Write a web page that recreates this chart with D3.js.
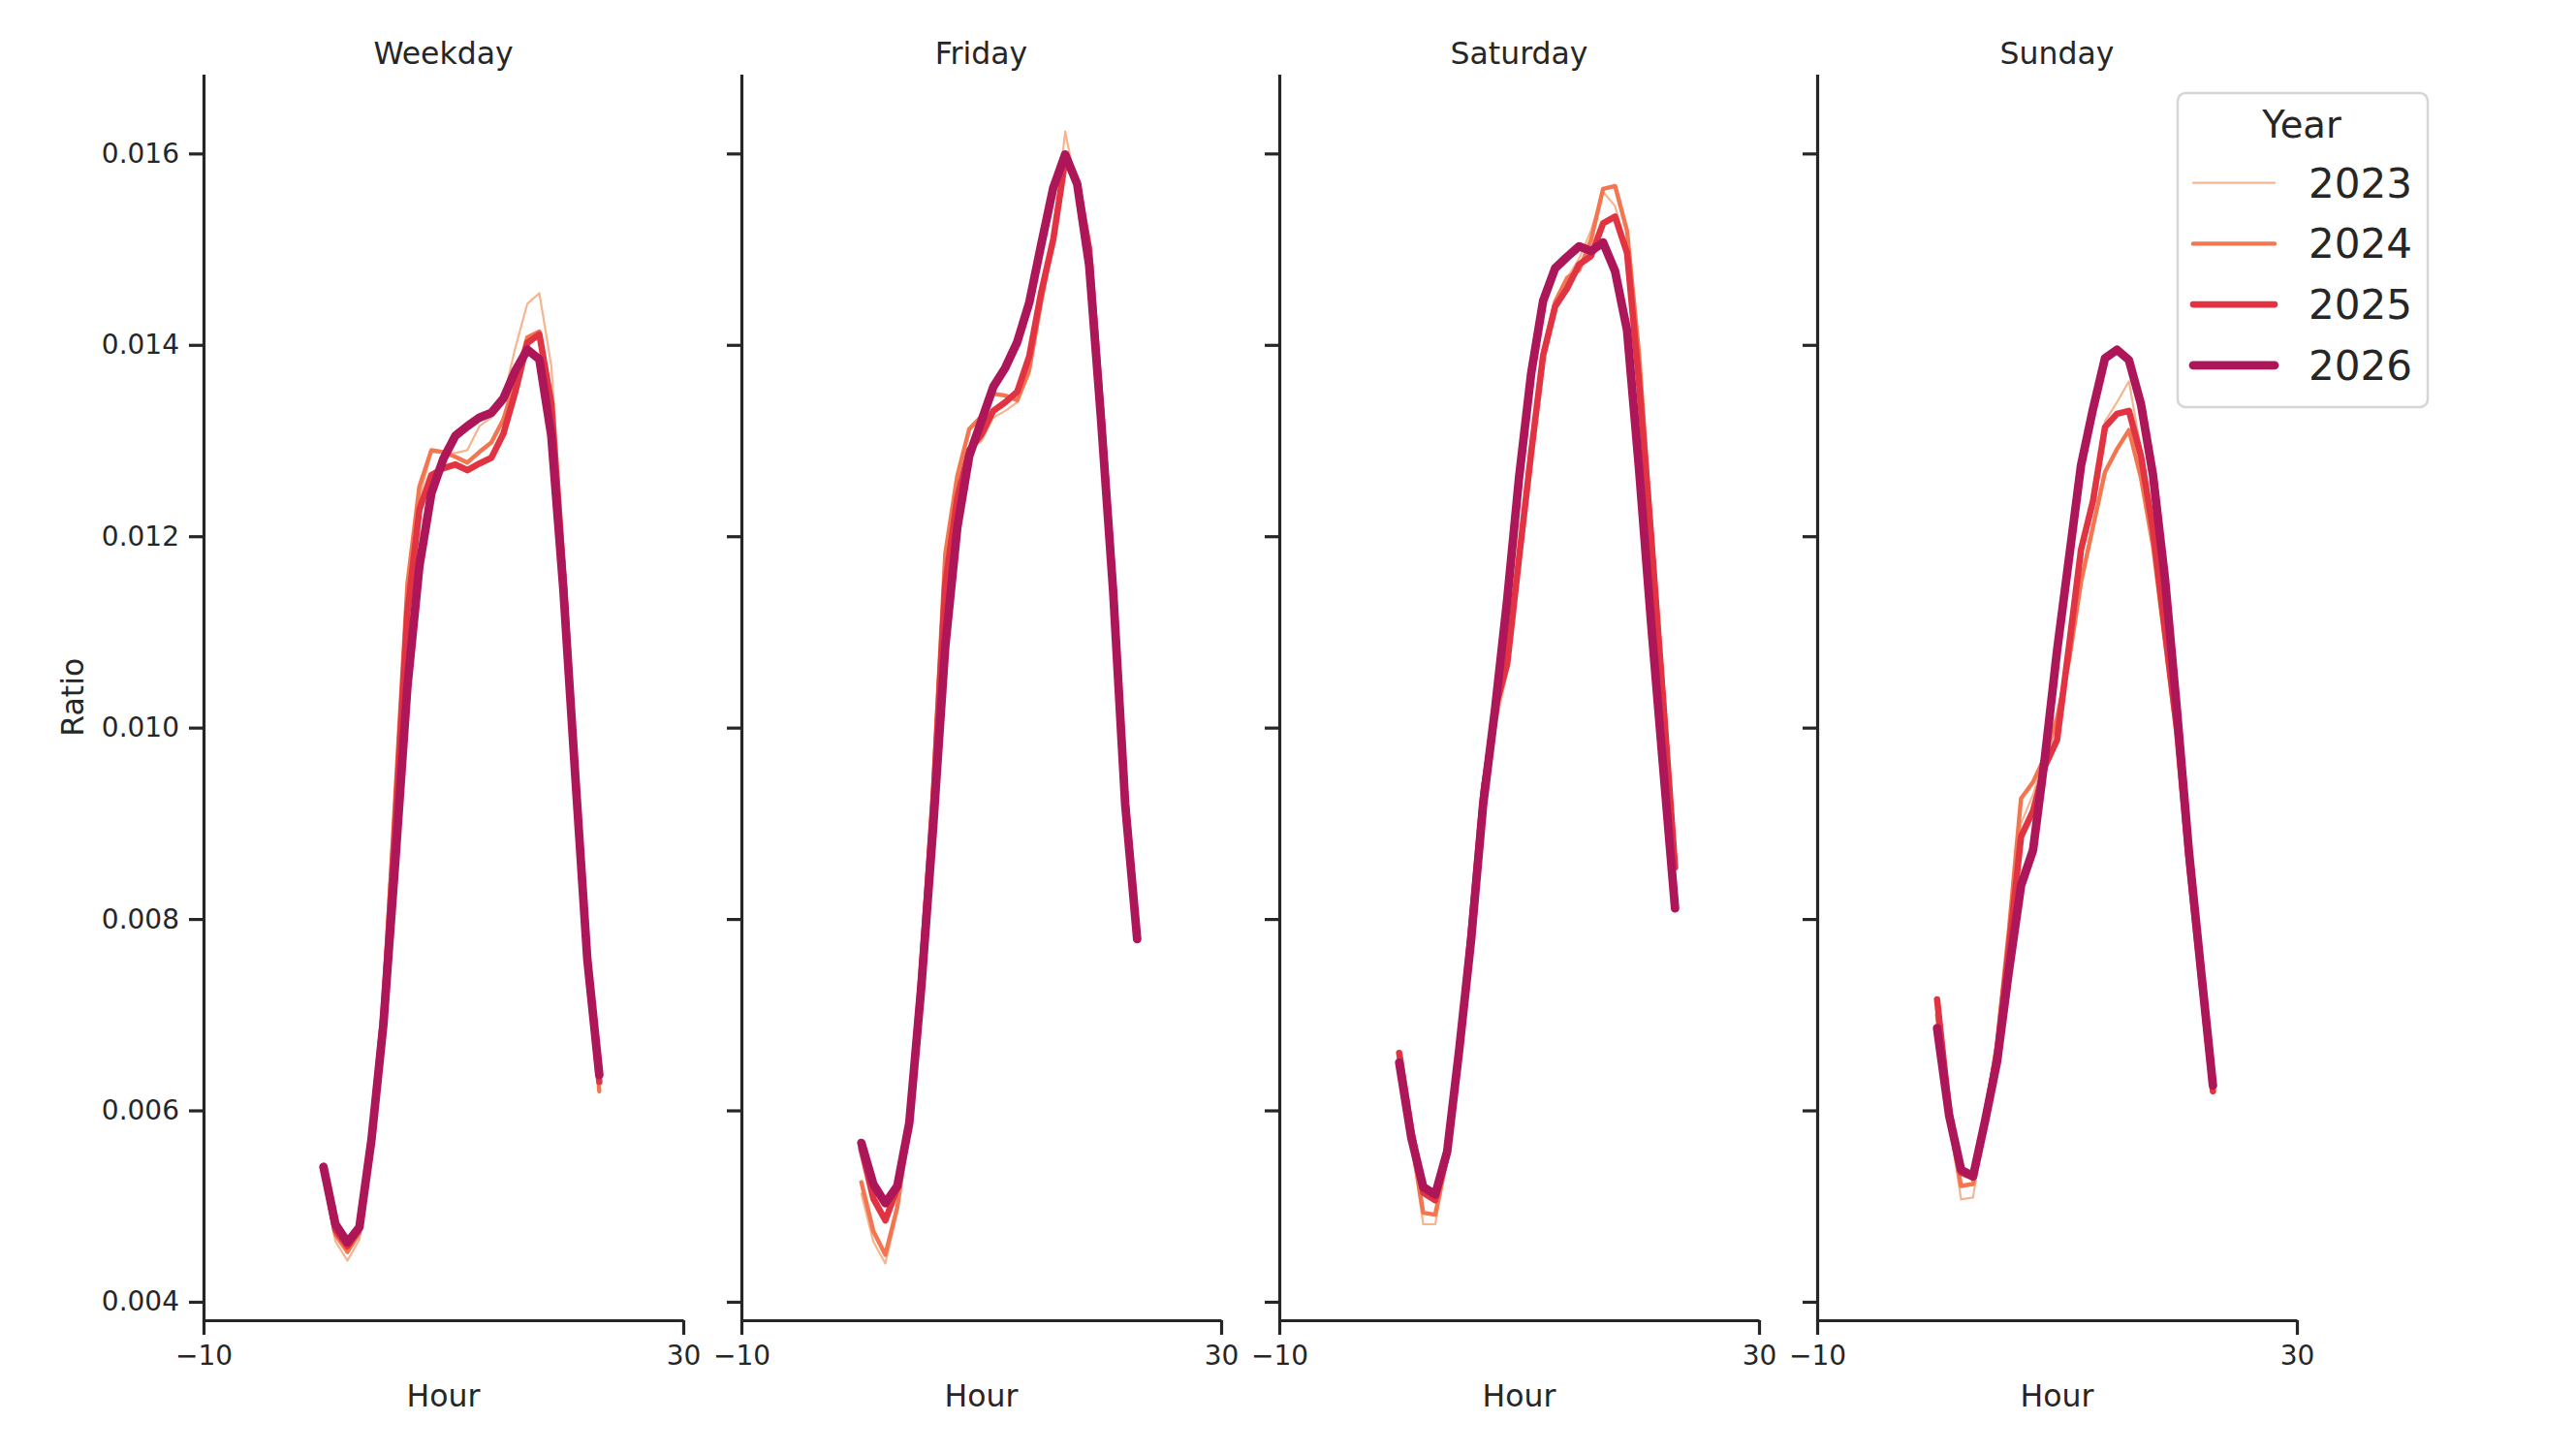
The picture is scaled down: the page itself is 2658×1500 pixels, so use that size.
<!DOCTYPE html>
<html>
<head>
<meta charset="utf-8">
<script src="https://cdn.jsdelivr.net/npm/d3@7"></script>
<style>
  body { margin: 0; background: #fff; }
  text { font-family: "DejaVu Sans", sans-serif; fill: #262626; }
</style>
</head>
<body>
<svg id="chart"></svg>
<script>
// data
const hours = [0, 1, 2, 3, 4, 5, 6, 7, 8, 9, 10, 11, 12, 13, 14, 15, 16, 17, 18, 19, 20, 21, 22, 23];
const years = ['2023', '2024', '2025', '2026'];
const dayTypes = ['Weekday', 'Friday', 'Saturday', 'Sunday'];
const yTicks = [0.004, 0.006, 0.008, 0.010, 0.012, 0.014, 0.016];
const xTicks = [-10, 30];

const weekday2023 = [0.00530, 0.00463, 0.00443, 0.00465, 0.00575, 0.00712, 0.00920, 0.01140, 0.01240, 0.01288, 0.01287, 0.01287, 0.01290, 0.01315, 0.01324, 0.01344, 0.01397, 0.01443, 0.01454, 0.01378, 0.01190, 0.00960, 0.00770, 0.00620];
const weekday2024 = [0.00535, 0.00470, 0.00452, 0.00472, 0.00575, 0.00710, 0.00930, 0.01150, 0.01252, 0.01290, 0.01288, 0.01283, 0.01277, 0.01288, 0.01298, 0.01322, 0.01363, 0.01408, 0.01414, 0.01334, 0.01170, 0.00960, 0.00770, 0.00620];
const weekday2025 = [0.00540, 0.00475, 0.00458, 0.00476, 0.00570, 0.00700, 0.00900, 0.01120, 0.01228, 0.01264, 0.01271, 0.01275, 0.01269, 0.01276, 0.01282, 0.01307, 0.01351, 0.01402, 0.01411, 0.01339, 0.01160, 0.00950, 0.00760, 0.00630];
const weekday2026 = [0.00541, 0.00481, 0.00462, 0.00478, 0.00569, 0.00690, 0.00862, 0.01043, 0.01169, 0.01245, 0.01281, 0.01305, 0.01315, 0.01324, 0.01329, 0.01344, 0.01373, 0.01395, 0.01385, 0.01305, 0.01145, 0.00949, 0.00758, 0.00637];

const friday2023 = [0.00513, 0.00463, 0.00440, 0.00494, 0.00585, 0.00750, 0.00940, 0.01170, 0.01250, 0.01293, 0.01299, 0.01324, 0.01331, 0.01340, 0.01369, 0.01442, 0.01510, 0.01623, 0.01560, 0.01500, 0.01330, 0.01150, 0.00930, 0.00780];
const friday2024 = [0.00525, 0.00474, 0.00449, 0.00499, 0.00585, 0.00750, 0.00940, 0.01182, 0.01263, 0.01312, 0.01325, 0.01349, 0.01347, 0.01342, 0.01374, 0.01446, 0.01510, 0.01590, 0.01570, 0.01500, 0.01330, 0.01150, 0.00930, 0.00780];
const friday2025 = [0.00560, 0.00508, 0.00485, 0.00519, 0.00585, 0.00740, 0.00920, 0.01150, 0.01240, 0.01290, 0.01306, 0.01331, 0.01340, 0.01351, 0.01388, 0.01455, 0.01510, 0.01593, 0.01570, 0.01500, 0.01330, 0.01150, 0.00930, 0.00780];
const friday2026 = [0.00566, 0.00523, 0.00503, 0.00521, 0.00587, 0.00729, 0.00898, 0.01085, 0.01209, 0.01284, 0.01320, 0.01356, 0.01376, 0.01403, 0.01444, 0.01505, 0.01564, 0.01599, 0.01568, 0.01483, 0.01320, 0.01142, 0.00920, 0.00779];

const saturday2023 = [0.00650, 0.00570, 0.00481, 0.00481, 0.00550, 0.00660, 0.00800, 0.00940, 0.01000, 0.01058, 0.01180, 0.01290, 0.01390, 0.01445, 0.01470, 0.01490, 0.01520, 0.01560, 0.01545, 0.01500, 0.01380, 0.01210, 0.01040, 0.00860];
const saturday2024 = [0.00650, 0.00570, 0.00493, 0.00491, 0.00550, 0.00660, 0.00800, 0.00940, 0.01010, 0.01080, 0.01180, 0.01290, 0.01390, 0.01445, 0.01470, 0.01478, 0.01510, 0.01563, 0.01566, 0.01519, 0.01390, 0.01210, 0.01040, 0.00860];
const saturday2025 = [0.00660, 0.00580, 0.00514, 0.00506, 0.00555, 0.00660, 0.00790, 0.00930, 0.01020, 0.01066, 0.01178, 0.01287, 0.01389, 0.01440, 0.01459, 0.01484, 0.01493, 0.01527, 0.01534, 0.01496, 0.01360, 0.01201, 0.01030, 0.00854];
const saturday2026 = [0.00650, 0.00572, 0.00520, 0.00512, 0.00557, 0.00663, 0.00779, 0.00920, 0.01020, 0.01133, 0.01262, 0.01370, 0.01446, 0.01480, 0.01492, 0.01503, 0.01498, 0.01507, 0.01477, 0.01415, 0.01270, 0.01110, 0.00960, 0.00811];

const sunday2023 = [0.00700, 0.00590, 0.00507, 0.00509, 0.00590, 0.00660, 0.00780, 0.00900, 0.00930, 0.00970, 0.01000, 0.01080, 0.01180, 0.01240, 0.01320, 0.01340, 0.01362, 0.01290, 0.01200, 0.01100, 0.00995, 0.00860, 0.00740, 0.00620];
const sunday2024 = [0.00700, 0.00590, 0.00521, 0.00523, 0.00590, 0.00670, 0.00790, 0.00926, 0.00943, 0.00970, 0.01010, 0.01070, 0.01152, 0.01210, 0.01267, 0.01291, 0.01311, 0.01261, 0.01190, 0.01090, 0.00990, 0.00860, 0.00740, 0.00620];
const sunday2025 = [0.00716, 0.00600, 0.00535, 0.00530, 0.00590, 0.00660, 0.00770, 0.00886, 0.00913, 0.00960, 0.00987, 0.01085, 0.01186, 0.01237, 0.01314, 0.01328, 0.01331, 0.01284, 0.01207, 0.01102, 0.00998, 0.00860, 0.00740, 0.00620];
const sunday2026 = [0.00686, 0.00595, 0.00538, 0.00531, 0.00589, 0.00651, 0.00747, 0.00835, 0.00872, 0.00970, 0.01080, 0.01177, 0.01274, 0.01333, 0.01386, 0.01395, 0.01384, 0.01338, 0.01264, 0.01156, 0.01018, 0.00870, 0.00747, 0.00626];

const seriesByDay = {
  Weekday: [weekday2023, weekday2024, weekday2025, weekday2026],
  Friday: [friday2023, friday2024, friday2025, friday2026],
  Saturday: [saturday2023, saturday2024, saturday2025, saturday2026],
  Sunday: [sunday2023, sunday2024, sunday2025, sunday2026]
};

const width = 2658, height = 1500;
const colors = ['#f6b48f', '#f37651', '#e13342', '#ad1759'];
const lineWidths = [2.2, 4.4, 6.6, 8.8];
const panelLeft = [210, 765, 1320, 1875];
const panelWidth = 495;
const plotTop = 76.5, plotBottom = 1362;
const ink = '#262626';

let svg = d3.select('#chart').attr('width', width).attr('height', height);

let y = d3.scaleLinear().domain([0.003807, 0.016829]).range([plotBottom, plotTop]);

dayTypes.forEach((day, p) => {
  let x = d3.scaleLinear().domain([-10, 30]).range([panelLeft[p], panelLeft[p] + panelWidth]);
  let g = svg.append('g');

  let yAxis = g.append('g')
    .attr('transform', 'translate(' + panelLeft[p] + ',0)')
    .call(d3.axisLeft(y)
      .tickValues(yTicks)
      .tickFormat(p === 0 ? d3.format('.3f') : '')
      .tickSize(15)
      .tickSizeOuter(0)
      .tickPadding(10));

  let xAxis = g.append('g')
    .attr('transform', 'translate(0,' + plotBottom + ')')
    .call(d3.axisBottom(x)
      .tickValues(xTicks)
      .tickFormat(d3.format('d'))
      .tickSize(15)
      .tickSizeOuter(0)
      .tickPadding(11));

  [yAxis, xAxis].forEach(a => {
    a.select('.domain').attr('stroke', ink).attr('stroke-width', 3.2);
    a.selectAll('.tick line').attr('stroke', ink).attr('stroke-width', 3.2);
    a.selectAll('.tick text')
      .style('font-family', '"DejaVu Sans", sans-serif')
      .style('font-size', '28px')
      .attr('fill', ink);
  });

  let line = d3.line()
    .x((d, i) => x(hours[i]))
    .y(d => y(d));

  seriesByDay[day].forEach((vals, k) => {
    g.append('path')
      .datum(vals)
      .attr('d', line)
      .attr('fill', 'none')
      .attr('stroke', colors[k])
      .attr('stroke-width', lineWidths[k])
      .attr('stroke-linecap', 'round')
      .attr('stroke-linejoin', 'round');
  });

  g.append('text')
    .attr('x', panelLeft[p] + panelWidth / 2)
    .attr('y', 66)
    .attr('text-anchor', 'middle')
    .style('font-size', '31.5px')
    .text(day);

  g.append('text')
    .attr('x', panelLeft[p] + panelWidth / 2)
    .attr('y', 1451)
    .attr('text-anchor', 'middle')
    .style('font-size', '31.5px')
    .text('Hour');
});

svg.append('text')
  .attr('transform', 'translate(75,' + (plotTop + plotBottom) / 2 + ') rotate(-90)')
  .attr('dy', '0.35em')
  .attr('text-anchor', 'middle')
  .style('font-size', '31.5px')
  .text('Ratio');

// legend
let legend = svg.append('g');
legend.append('rect')
  .attr('x', 2247)
  .attr('y', 96)
  .attr('width', 258)
  .attr('height', 324)
  .attr('rx', 8)
  .attr('fill', 'white')
  .attr('fill-opacity', 0.8)
  .attr('stroke', '#d5d5d5')
  .attr('stroke-width', 2.5);

legend.append('text')
  .attr('x', 2375)
  .attr('y', 142)
  .attr('text-anchor', 'middle')
  .style('font-size', '38.5px')
  .text('Year');

years.forEach((yr, k) => {
  let ly = 188.7 + k * 62.7;
  legend.append('line')
    .attr('x1', 2263)
    .attr('x2', 2347)
    .attr('y1', ly)
    .attr('y2', ly)
    .attr('stroke', colors[k])
    .attr('stroke-width', lineWidths[k])
    .attr('stroke-linecap', 'round');
  legend.append('text')
    .attr('x', 2382)
    .attr('y', ly + 14.8)
    .style('font-size', '42px')
    .text(yr);
});
</script>
</body>
</html>
